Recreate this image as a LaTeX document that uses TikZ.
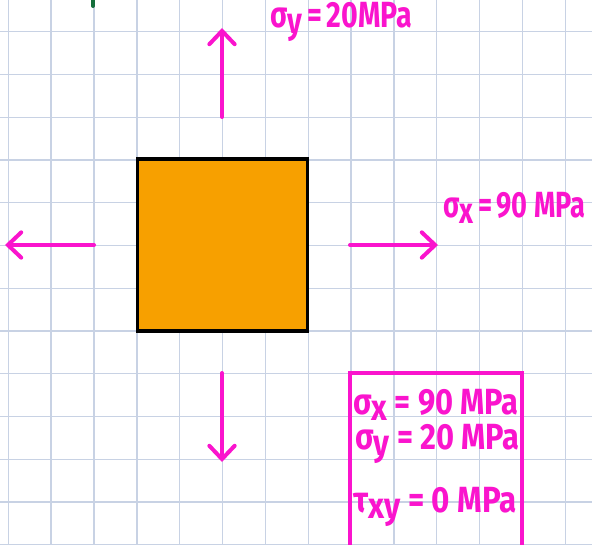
\documentclass[tikz,border=0pt]{standalone}
\usepackage{fontspec}
\setmainfont{Fira Sans}
\usetikzlibrary{arrows.meta}
\definecolor{gridc}{RGB}{200,210,228}
\definecolor{mag}{RGB}{250,20,205}
\definecolor{org}{RGB}{247,160,0}
\definecolor{grn}{RGB}{20,110,60}
\newcommand{\lw}[1]{\raisebox{-0.3ex}{#1}}
\newcommand{\hw}[2][1]{\scalebox{#1}[1.3]{#2}}
\tikzset{
  gridline/.style={draw=gridc, line width=1pt},
  force/.style={draw=mag, line width=3pt, line cap=round,
    -{Straight Barb[length=10pt,width=19pt,line width=3pt,line cap=round]}},
  lbl/.style={text=mag, font=\fontseries{sb}\fontsize{21}{23}\selectfont, inner sep=0pt},
  elem/.style={draw=black, line width=2.4pt, fill=org, minimum width=128pt, minimum height=129pt, inner sep=0pt},
  databox/.style={draw=mag, line width=2.3pt}
}
\begin{document}
\begin{tikzpicture}[x=0.75pt,y=-0.75pt]
\useasboundingbox (0,0) rectangle (592,545);
\fill[white] (0,0) rectangle (592,545);
% grid
\foreach \k in {0,...,13} {\draw[gridline] ({8.3+42.85*\k},0) -- ({8.3+42.85*\k},545);}
\foreach \k in {0,...,12} {\draw[gridline] (0,{31.8+42.75*\k}) -- (592,{31.8+42.75*\k});}
% green mark
\draw[grn, line width=3pt, line cap=round] (93,0) -- (93,6);
% element
\node[elem] (sq) at (222.5,245) {};
% arrows
\coordinate (upS) at (222,117); \coordinate (upE) at (222,28);
\coordinate (dnS) at (222,373); \coordinate (dnE) at (222,462);
\coordinate (lfS) at (94,245); \coordinate (lfE) at (5,245);
\coordinate (rtS) at (350,245); \coordinate (rtE) at (438,245);
\draw[force] (upS) -- (upE);
\draw[force] (dnS) -- (dnE);
\draw[force] (lfS) -- (lfE);
\draw[force] (rtS) -- (rtE);
% labels
\node[lbl, anchor=west] (ly) at (270,22) {\hw[1.02]{σ\lw{y}\,=\,20MPa}};
\node[lbl, anchor=west] (lx) at (443,208) {\hw[0.97]{σ\lw{x}\,=\,90 MPa}};
% data box
\draw[databox] (350,373) rectangle (522,550);
\node[lbl, anchor=west] (b1) at (353,405) {\hw[1.1]{σ\lw{x} = 90 MPa}};
\node[lbl, anchor=west] (b2) at (355,444) {\hw[1.1]{σ\lw{y} = 20 MPa}};
\node[lbl, anchor=west] (b3) at (353,507) {\hw[1.12]{τ\lw{xy} = 0 MPa}};
\end{tikzpicture}
\end{document}
